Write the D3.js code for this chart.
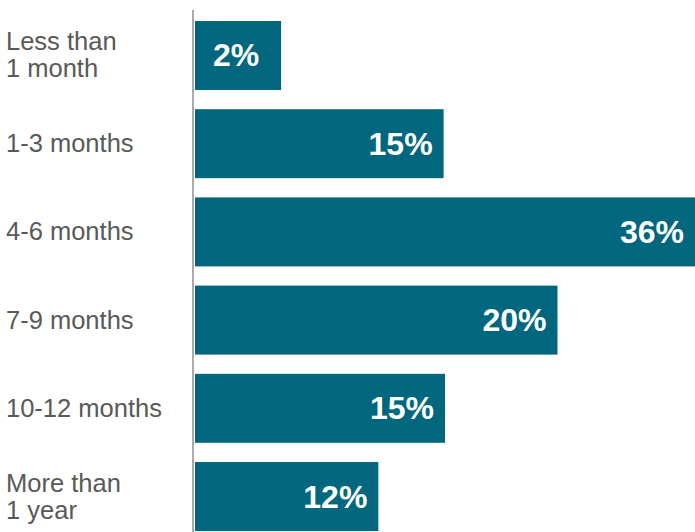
<!DOCTYPE html>
<html>
<head>
	<meta charset="UTF-8" />
	<title>Time to find a job</title>
	<script src="https://d3js.org/d3.v7.min.js"></script>
	<style>
		body { margin: 0; background: #fff; }
		svg { display: block; font-family: "Liberation Sans", Arial, Helvetica, sans-serif; }
		.cat { fill: #595959; font-size: 25.5px; }
		.val { fill: #fff; font-size: 32px; font-weight: bold; }
	</style>
</head>
<body>
	<div id="main"></div>
	<script type="text/javascript">
		// categories (line breaks as in the source)
		var categories = [
			['Less than', '1 month'],
			['1-3 months'],
			['4-6 months'],
			['7-9 months'],
			['10-12 months'],
			['More than', '1 year']
		];
		// printed labels
		var shares = [2, 15, 36, 20, 15, 12];
		// bar lengths as drawn in the source (percent units, not proportional to labels)
		var drawnShare = [6.2, 17.9, 36, 26.1, 18.0, 13.2];

		var width = 695, height = 532;
		var svg = d3.select('#main').append('svg').attr('width', width).attr('height', height);

		var x = d3.scaleLinear().domain([0, 36]).range([195, 695]);
		var y = d3.scaleBand().domain(d3.range(categories.length))
			.range([21, 531]).paddingInner(0.218).paddingOuter(0);

		var rows = svg.selectAll('g.row').data(categories).enter()
			.append('g').attr('class', 'row');

		rows.append('rect')
			.attr('x', x(0))
			.attr('y', (d, i) => y(i))
			.attr('width', (d, i) => x(drawnShare[i]) - x(0))
			.attr('height', y.bandwidth())
			.attr('fill', '#00677f');

		rows.append('text')
			.attr('class', 'val')
			.attr('x', (d, i) => (x(drawnShare[i]) - x(0) < 100) ? (x(0) + x(drawnShare[i])) / 2 - 2 : x(drawnShare[i]) - 11)
			.attr('y', (d, i) => y(i) + y.bandwidth() / 2 + 11)
			.attr('text-anchor', (d, i) => (x(drawnShare[i]) - x(0) < 100) ? 'middle' : 'end')
			.text((d, i) => shares[i] + '%');

		rows.append('text')
			.attr('class', 'cat')
			.attr('x', 6)
			.attr('y', (d, i) => y(i) + y.bandwidth() / 2 + 8.5 - (d.length - 1) * 13.5)
			.selectAll('tspan').data(d => d).enter()
			.append('tspan')
			.attr('x', 6)
			.attr('dy', (d, j) => j ? 27 : 0)
			.text(d => d);

		// baseline
		svg.append('line')
			.attr('x1', 193).attr('x2', 193)
			.attr('y1', 10).attr('y2', height)
			.attr('stroke', '#aaa').attr('stroke-width', 2);
	</script>
</body>
</html>
